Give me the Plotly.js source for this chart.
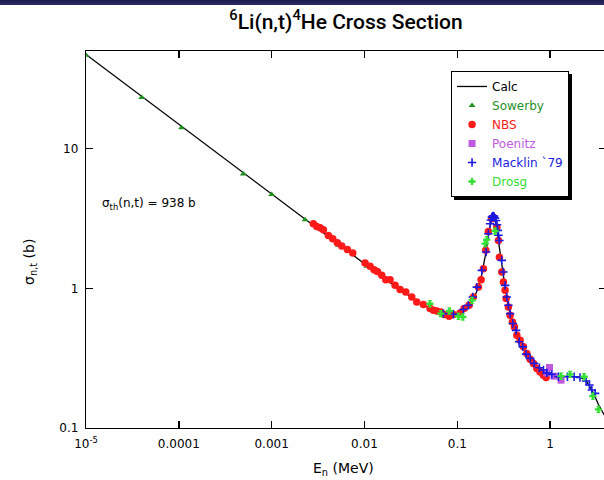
<!DOCTYPE html>
<html>
<head>
<meta charset="utf-8">
<script src="https://cdn.plot.ly/plotly-3.0.1.min.js"></script>
<style>
  html, body { margin: 0; padding: 0; background: #fff; overflow: hidden; width: 604px; height: 480px; }
  #chart { position: absolute; left: 0; top: 0; width: 610px; height: 480px; }
  #topbar { position: absolute; left: 0; top: 0; width: 604px; height: 5px; background: linear-gradient(#1b1b4c, #2e2e68); z-index: 5; }
  .legend .bg { filter: drop-shadow(3px 3px 0 #000); }
</style>
</head>
<body>
<div id="chart"></div>
<div id="topbar"></div>
<script>
// Evaluated 6Li(n,t) cross section (b) vs neutron energy (MeV)
const calcE = [1e-5, 1e-4, 1e-3, 0.003, 0.01, 0.02, 0.03, 0.04, 0.05, 0.06, 0.07, 0.08, 0.09, 0.1,
  0.12, 0.14, 0.16, 0.18, 0.20, 0.22, 0.235, 0.245, 0.255, 0.265, 0.28, 0.30, 0.32, 0.34, 0.37,
  0.40, 0.45, 0.50, 0.60, 0.70, 0.80, 0.90, 1.0, 1.2, 1.6, 2.0, 2.3, 2.5, 2.8, 3.0, 3.3, 3.7, 4.0];
const calcXS = [47.2, 14.9, 4.72, 2.73, 1.50, 1.07, 0.89, 0.78, 0.72, 0.685, 0.665, 0.655, 0.655, 0.665,
  0.71, 0.79, 0.93, 1.18, 1.70, 2.55, 3.15, 3.30, 3.15, 2.70, 2.05, 1.50, 1.13, 0.88, 0.66,
  0.56, 0.46, 0.39, 0.32, 0.285, 0.265, 0.25, 0.243, 0.236, 0.233, 0.232, 0.226, 0.213, 0.188, 0.172, 0.148, 0.128, 0.118];

// Sowerby
const sowE = [1e-5, 3.98e-5, 1.07e-4, 4.95e-4, 1.0e-3, 2.29e-3, 5.24e-3, 0.0106, 0.0214, 0.0332];
const sowXS = [46.7, 23.2, 14.1, 6.59, 4.69, 3.10, 2.03, 1.44, 1.04, 0.844];

// NBS
const nbsE = [0.002814, 0.00306, 0.003323, 0.003606, 0.004083, 0.004553, 0.005105, 0.005692, 0.006542, 0.007482,
  0.01015, 0.01149, 0.01269, 0.01377, 0.01536, 0.01696, 0.01887, 0.02137, 0.02418, 0.02786, 0.03234, 0.03661,
  0.04312, 0.05091, 0.05527, 0.06013, 0.06643, 0.07261, 0.08157, 0.09077, 0.1072, 0.1184, 0.1340, 0.1491,
  0.1689, 0.1805, 0.1911, 0.2028, 0.2163, 0.2353, 0.2449, 0.2665, 0.2773, 0.2844, 0.3017, 0.3141, 0.3274,
  0.3357, 0.3553, 0.3707, 0.3925, 0.4124, 0.4377, 0.475, 0.5158, 0.561, 0.609, 0.661, 0.719, 0.78, 0.847, 0.906];
const nbsXS = [2.90, 2.77, 2.71, 2.63, 2.39, 2.26, 2.12, 2.005, 1.90, 1.79,
  1.52, 1.44, 1.36, 1.32, 1.24, 1.15, 1.15, 1.05, 0.979, 0.941, 0.867, 0.798,
  0.765, 0.716, 0.696, 0.688, 0.677, 0.649, 0.631, 0.649, 0.666, 0.716, 0.756, 0.867,
  1.02, 1.15, 1.38, 1.87, 2.55, 3.15, 3.23, 2.74, 2.20, 1.67, 1.31, 1.11, 0.968,
  0.844, 0.735, 0.641, 0.574, 0.529, 0.462, 0.425, 0.381, 0.342, 0.31, 0.29, 0.267, 0.252, 0.239, 0.230];

// Poenitz
const poeE = [0.921, 0.985, 1.104, 1.313];
const poeXS = [0.248, 0.271, 0.235, 0.220];

// Macklin `79
const macE = [0.0708, 0.0908, 0.1163, 0.1317, 0.1469, 0.1622, 0.1837, 0.2043, 0.2163, 0.2256, 0.2300, 0.2353,
  0.2400, 0.2450, 0.2492, 0.2550, 0.2619, 0.2680, 0.2731, 0.2780, 0.2844, 0.3017, 0.3141, 0.3274, 0.3415,
  0.3553, 0.3707, 0.3963, 0.4300, 0.4634, 0.508, 0.551, 0.609, 0.6725, 0.767, 0.847, 0.921, 1.043, 1.229,
  1.536, 1.814, 2.10, 2.443, 2.651, 2.814, 3.054];
const macXS = [0.659, 0.652, 0.705, 0.756, 0.867, 1.02, 1.345, 1.82, 2.46, 2.90, 3.08, 3.23,
  3.28, 3.30, 3.27, 3.18, 3.06, 2.85, 2.60, 2.40, 2.20, 1.585, 1.31, 1.05, 0.867,
  0.756, 0.659, 0.56, 0.50, 0.414, 0.381, 0.338, 0.315, 0.29, 0.27, 0.26, 0.248, 0.242, 0.233,
  0.233, 0.233, 0.230, 0.217, 0.203, 0.187, 0.177];

// Drosg
const droE = [0.0507, 0.0664, 0.0822, 0.1028, 0.1147, 0.1443, 0.1993, 0.2079, 0.2555, 1.313, 1.643, 2.325, 2.885, 3.316];
const droXS = [0.776, 0.659, 0.688, 0.631, 0.624, 0.821, 2.09, 2.23, 2.57, 0.235, 0.242, 0.233, 0.169, 0.136];

// Axis labels
const xTickVals = [1e-5, 1e-4, 1e-3, 0.01, 0.1, 1];
const xTickText = ['10<sup>-5</sup>', '0.0001', '0.001', '0.01', '0.1', '1'];
const yTickVals = [0.1, 1, 10];
const yTickText = ['0.1', '1', '10'];

// minor tick positions at 2..9 within each decade
function minorTicks(lo, hi) {
  const out = [];
  for (let p = lo; p <= hi; p++) {
    for (let m = 2; m <= 9; m++) out.push(m * Math.pow(10, p));
  }
  return out;
}

const FONT = 'DejaVu Sans, sans-serif';
const X_RANGE = [-5, Math.log10(4)];
const Y_RANGE = [-1, Math.log10(50)];

const traces = [
  { name: 'Calc', x: calcE, y: calcXS, mode: 'lines', line: { color: '#000', width: 1.3 } },
  { name: '<span style="color:#1f8f1f">Sowerby</span>', x: sowE, y: sowXS, mode: 'markers',
    marker: { symbol: 'triangle-up', size: 6, color: '#1f8f1f' } },
  { name: '<span style="color:#ff1a1a">NBS</span>', x: nbsE, y: nbsXS, mode: 'markers',
    marker: { symbol: 'circle', size: 7.5, color: '#ff1a1a' } },
  { name: '<span style="color:#c058e0">Poenitz</span>', x: poeE, y: poeXS, mode: 'markers',
    marker: { symbol: 'square', size: 7, color: '#c058e0' } },
  { name: '<span style="color:#1a1ae0">Macklin `79</span>', x: macE, y: macXS, mode: 'markers',
    marker: { symbol: 'cross-thin', size: 6, color: '#1a1ae0', line: { color: '#1a1ae0', width: 1.6 } } },
  { name: '<span style="color:#33e033">Drosg</span>', x: droE, y: droXS, mode: 'markers',
    marker: { symbol: 'cross', size: 6, color: '#33e033' },
    error_y: { type: 'percent', value: 5, color: '#33e033', thickness: 1, width: 2 } }
];

// shared frame settings for the main axes and the minor-tick overlay axes
function frame(extra) {
  return Object.assign({
    type: 'log', tickmode: 'array',
    ticks: 'inside', tickwidth: 1.5, tickcolor: '#000',
    showline: true, linecolor: '#000', linewidth: 1.2, mirror: 'ticks',
    showgrid: false, zeroline: false,
    tickfont: { family: FONT, size: 12, color: '#000' }
  }, extra);
}

const layout = {
  width: 610, height: 480,
  margin: { l: 86, r: 4, t: 51, b: 52 },
  paper_bgcolor: '#fff', plot_bgcolor: '#fff',
  showlegend: true,
  font: { family: FONT, size: 12, color: '#000' },
  title: {
    text: '<sup>6</sup>Li(n,t)<sup>4</sup>He Cross Section',
    font: { family: 'Roboto, Liberation Sans, sans-serif', size: 21, weight: 500, color: '#000' },
    xref: 'paper', x: 0.5, xanchor: 'center',
    yref: 'container', y: 0.955, yanchor: 'middle'
  },
  xaxis: frame({ range: X_RANGE, tickvals: xTickVals, ticktext: xTickText, ticklen: 7, ticklabelstandoff: 4 }),
  yaxis: frame({ range: Y_RANGE, tickvals: yTickVals, ticktext: yTickText, ticklen: 7, ticklabelstandoff: 4 }),
  xaxis2: frame({ range: X_RANGE, overlaying: 'x', anchor: 'y2', side: 'bottom', tickvals: minorTicks(-5, 0),
    ticklen: 4, showticklabels: false }),
  yaxis2: frame({ range: Y_RANGE, overlaying: 'y', anchor: 'x2', side: 'left', tickvals: minorTicks(-1, 1),
    ticklen: 4, showticklabels: false }),
  legend: {
    x: 0.702, y: 0.947, xanchor: 'left', yanchor: 'top',
    bgcolor: '#fff', bordercolor: '#000', borderwidth: 1,
    font: { family: FONT, size: 12, color: '#000' },
    tracegroupgap: 0
  },
  annotations: [
    { text: 'σ<sub>th</sub>(n,t) = 938 b', xref: 'paper', yref: 'paper', x: 0.027, y: 0.594,
      xanchor: 'left', yanchor: 'middle', showarrow: false, font: { family: FONT, size: 12, color: '#000' } },
    { text: 'E<sub>n</sub> (MeV)', xref: 'paper', yref: 'paper', x: 0.496, y: -0.11,
      xanchor: 'center', yanchor: 'middle', showarrow: false, font: { family: FONT, size: 14, color: '#000' } },
    { text: 'σ<sub>n,t</sub> (b)', xref: 'paper', yref: 'paper', x: -0.108, y: 0.44, textangle: -90,
      xanchor: 'center', yanchor: 'middle', showarrow: false, font: { family: FONT, size: 14, color: '#000' } }
  ]
};

Plotly.newPlot('chart', traces, layout, { staticPlot: true, displayModeBar: false });
</script>
</body>
</html>
